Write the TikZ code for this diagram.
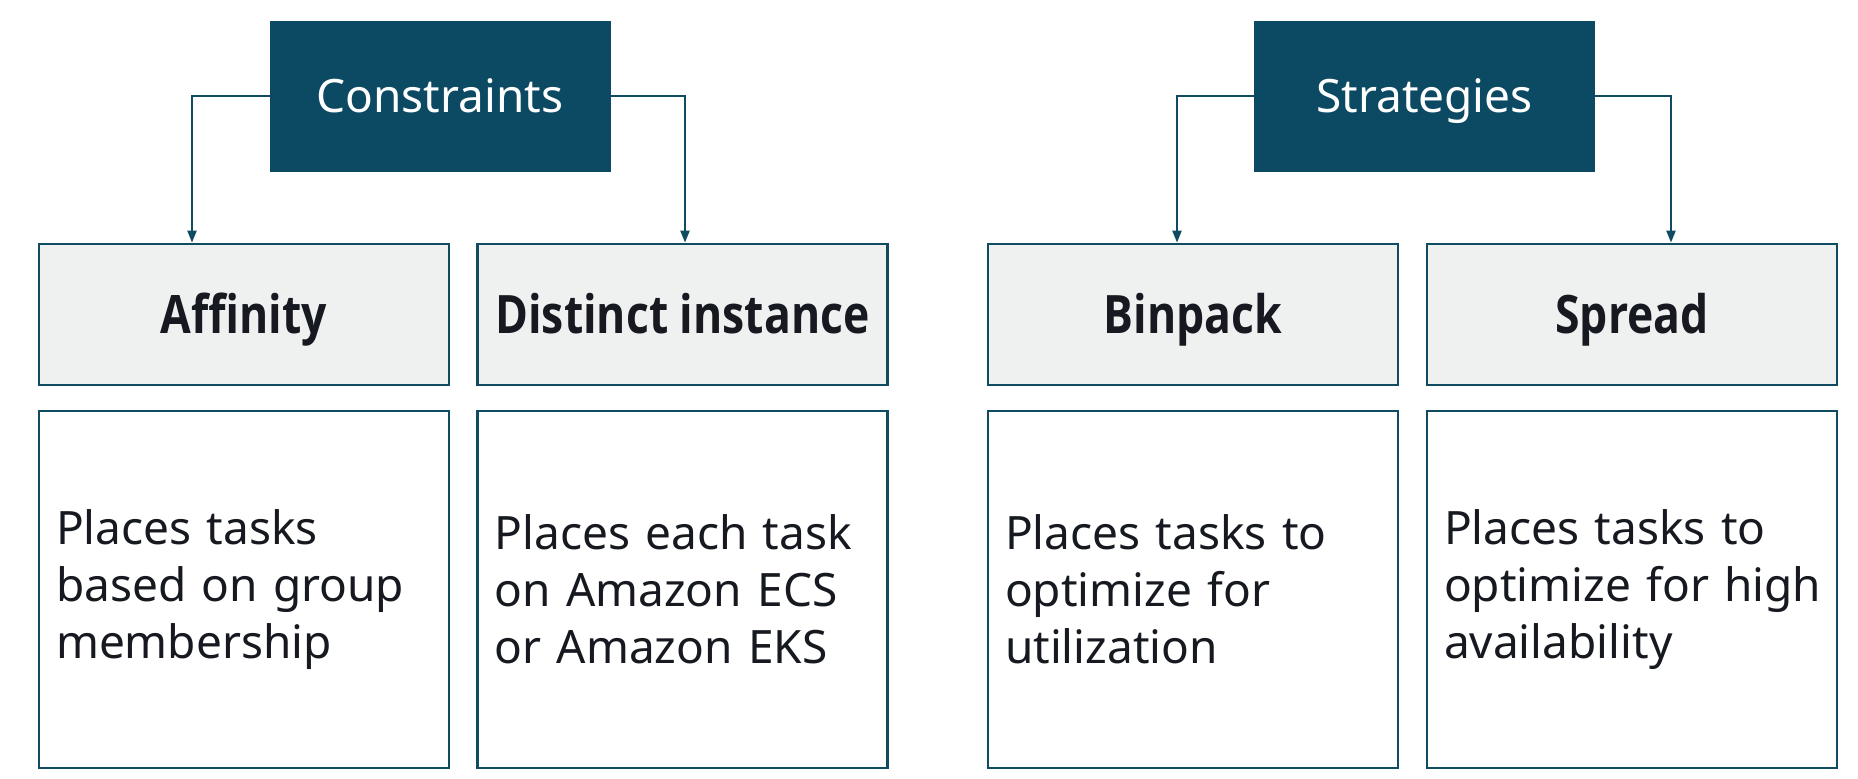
\documentclass[tikz,border=0pt]{standalone}
\usepackage{fontspec}
\setmainfont{Noto Sans}
\newfontfamily\headfont{Open Sans}[FakeStretch=0.84]
\usetikzlibrary{arrows.meta}
\definecolor{awsteal}{HTML}{0B4A62}
\definecolor{awsedge}{HTML}{0F4C61}
\definecolor{awslight}{HTML}{EFF1F1}
\definecolor{awsink}{HTML}{16191F}
\tikzset{
  topbox/.style={fill=awsteal, draw=awsteal, text=white, minimum width=170pt, minimum height=75pt, inner sep=0pt, text height=16.4pt, text depth=0pt, font=\fontsize{23}{28}\selectfont},
  headbox/.style={fill=awslight, draw=awsedge, line width=1.4pt, text=awsink, minimum width=205pt, minimum height=70.5pt, inner sep=0pt, text height=18.9pt, text depth=0pt, font=\headfont\bfseries\fontsize{26.5}{31}\selectfont},
  descbox/.style={fill=white, draw=awsedge, line width=1.4pt, text=awsink, minimum width=205pt, minimum height=178.5pt, inner xsep=8.5pt, inner ysep=0pt, text width=188pt, align=left, font=\fontsize{23}{28.5}\selectfont},
  conn/.style={draw=awsedge, line width=1.1pt, -{Triangle[length=6pt,width=4.5pt]}}
}
\begin{document}
\begin{tikzpicture}[x=0.5pt,y=-0.5pt]
\useasboundingbox[fill=white] (0,0) rectangle (1858,778);
\node[topbox] (C) at (440,96) {Constraints};
\node[topbox] (S) at (1424.5,96) {Strategies};
\node[headbox] (aff) at (244,314.5) {Affinity};
\node[headbox] (dis) at (682.5,314.5) {Distinct instance};
\node[headbox] (bin) at (1193,314.5) {Binpack};
\node[headbox] (spr) at (1632,314.5) {Spread};
\node[descbox] (daff) at (244,589.5) {\mbox{Places tasks}\\\mbox{based on group}\\\mbox{membership}};
\node[descbox] (ddis) at (682.5,589.5) {\mbox{Places each task}\\\mbox{on Amazon ECS}\\\mbox{or Amazon EKS}};
\node[descbox] (dbin) at (1193,589.5) {\mbox{Places tasks to}\\\mbox{optimize for}\\\mbox{utilization}};
\node[descbox] (dspr) at (1632,589.5) {\mbox{Places tasks to}\\\mbox{optimize for high}\\\mbox{availability}};
\draw[conn] (C.west) -| ([xshift=-26pt]aff.north);
\draw[conn] (C.east) -| ([xshift=1.25pt]dis.north);
\draw[conn] (S.west) -| ([xshift=-8pt]bin.north);
\draw[conn] (S.east) -| ([xshift=19.5pt]spr.north);
\end{tikzpicture}
\end{document}
